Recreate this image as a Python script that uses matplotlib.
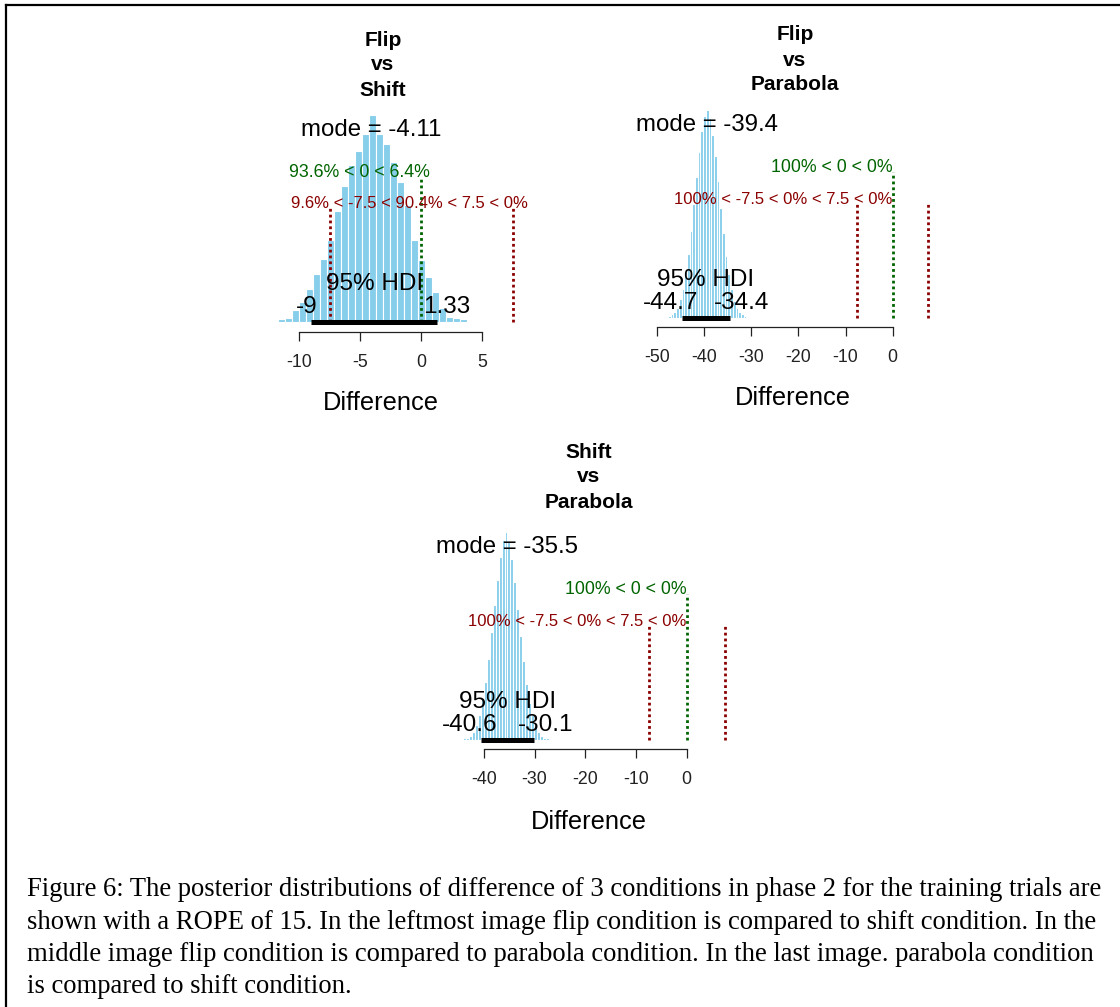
import matplotlib

matplotlib.use("Agg")

import matplotlib.pyplot as plt
from matplotlib.lines import Line2D
import numpy as np

plt.rcParams.update(
    {
        "font.family": ["Liberation Sans", "DejaVu Sans"],
        "axes.unicode_minus": False,
    }
)

# ---- data (posterior differences, BEST style plots) ----
TITLES = [["Flip", "vs", "Shift"], ["Flip", "vs", "Parabola"], ["Shift", "vs", "Parabola"]]
MODES = [-4.11, -39.4, -35.5]
HDI_LOW = [-9, -44.7, -40.6]
HDI_HIGH = [1.33, -34.4, -30.1]
COMP_VAL = 0
ROPE = [-7.5, 7.5]
PCT_LT_COMP = [93.6, 100, 100]
PCT_GT_COMP = [6.4, 0, 0]
PCT_LT_ROPE = [9.6, 100, 100]
PCT_IN_ROPE = [90.4, 0, 0]
PCT_GT_ROPE = [0, 0, 0]

HIST_START = [-12.27, -47.6, -44.1]
# bar heights as % of the tallest bar
HIST_1 = [0.5, 1.4, 1.9, 5.8, 9.7, 15.9, 23.2, 30.4, 39.6, 53.6, 65.7, 75.8, 82.6, 90.8, 100,
          90.8, 86.0, 77.3, 67.6, 56.5, 39.6, 30.0, 21.7, 14.5, 6.8, 2.4, 1.9, 1.4, 0.3]
HIST_2 = [1, 2, 3, 5, 9, 14, 22, 31, 42, 55, 68, 80, 90, 97, 100,
          96, 88, 78, 66, 53, 41, 30, 21, 14, 8, 5, 3, 2, 1]
HIST_3 = [1, 1, 2, 4, 7, 12, 19, 28, 39, 52, 65, 77, 88, 96, 100,
          95, 87, 76, 63, 50, 38, 27, 18, 12, 7, 4, 2, 1, 1, 0.5]
HISTS = [HIST_1, HIST_2, HIST_3]

TICKS = [[-10, -5, 0, 5], [-50, -40, -30, -20, -10, 0], [-40, -30, -20, -10, 0]]

CAPTION = [
    "Figure 6: The posterior distributions of difference of 3 conditions in phase 2 for the training trials are",
    "shown with a ROPE of 15. In the leftmost image flip condition is compared to shift condition. In the",
    "middle image flip condition is compared to parabola condition. In the last image. parabola condition",
    "is compared to shift condition.",
]

# ---- layout (pixels of the 1120x1007 canvas) ----
W, H = 1120, 1007
PANELS = [
    # zero_x, px_per_unit, baseline_y, px_per_height, xlim, title_xy, xlabel_xy
    dict(x0=421, pxu=12.2, base=322, hpx=207, gap=10, xlim=(-13.5, 8.5), title=(383, 40), xlab=(381, 403)),
    dict(x0=892.7, pxu=4.72, base=318, hpx=208, gap=9, xlim=(-51, 9), title=(795, 35), xlab=(793, 398)),
    dict(x0=686.7, pxu=5.07, base=740, hpx=208, gap=9, xlim=(-46, 9), title=(589, 452), xlab=(589, 822)),
]

SKY = "#87CEEB"
GREEN = "#006400"
RED = "#8B0000"

fig = plt.figure(figsize=(W / 100, H / 100), dpi=100)
fig.patch.set_facecolor("white")
renderer = fig.canvas.get_renderer()


def fpos(px, py):
    return px / W, 1 - py / H


def adj_text(ax, x, y, s, adj, dy=0.0, **kw):
    t = ax.annotate(s, (x, y), xytext=(0, dy), textcoords="offset points",
                    ha="left", va="baseline", annotation_clip=False, **kw)
    w = t.get_window_extent(renderer).width
    t.set_position((-adj * w * 72 / fig.dpi, dy))
    return t


for i, p in enumerate(PANELS):
    ylim = (-p["gap"] / p["hpx"], 1.03)
    left = (p["x0"] + p["xlim"][0] * p["pxu"]) / W
    width = (p["xlim"][1] - p["xlim"][0]) * p["pxu"] / W
    bottom = 1 - (p["base"] - ylim[0] * p["hpx"]) / H
    height = (ylim[1] - ylim[0]) * p["hpx"] / H
    ax = fig.add_axes([left, bottom, width, height])
    ax.set_xlim(p["xlim"])
    ax.set_ylim(ylim)
    ax.patch.set_alpha(0)

    heights = np.array(HISTS[i], dtype=float) / 100.0
    bw = (HDI_HIGH[i] - HDI_LOW[i]) / 18.0
    edges = HIST_START[i] + bw * np.arange(len(heights))
    ax.bar(edges, heights, width=bw, align="edge", color=SKY, edgecolor="white", linewidth=0.8, zorder=1)

    # HDI bar
    ax.plot([HDI_LOW[i], HDI_HIGH[i]], [0, 0], color="black", lw=3.6, solid_capstyle="butt", zorder=3)

    # comparison value & ROPE
    ax.plot([COMP_VAL, COMP_VAL], [0, 0.7], color=GREEN, lw=2, linestyle=(0, (1, 1.1)), zorder=2)
    for r in ROPE:
        ax.plot([r, r], [0, 0.55], color=RED, lw=2, linestyle=(0, (1, 1.1)), zorder=2)

    ax.text(MODES[i], 0.9, f"mode = {MODES[i]:g}", ha="center", va="baseline", fontsize=17.3, zorder=4)
    adj_text(ax, COMP_VAL, 0.7, f"{PCT_LT_COMP[i]:g}% < {COMP_VAL:g} < {PCT_GT_COMP[i]:g}%",
             PCT_LT_COMP[i] / 100, fontsize=12.8, color=GREEN, zorder=4)
    rope_txt = (f"{PCT_LT_ROPE[i]:g}% < {ROPE[0]:g} < {PCT_IN_ROPE[i]:g}% < "
                f"{ROPE[1]:g} < {PCT_GT_ROPE[i]:g}%")
    adj_text(ax, np.mean(ROPE), 0.55, rope_txt,
             (PCT_LT_ROPE[i] + 0.5 * PCT_IN_ROPE[i]) / 100, fontsize=12, color=RED, zorder=4)

    hdi_mid = (HDI_LOW[i] + HDI_HIGH[i]) / 2
    adj_text(ax, hdi_mid, 0, "95% HDI", 0.5, dy=23, fontsize=17.5, zorder=4)
    adj_text(ax, HDI_LOW[i], 0, f"{HDI_LOW[i]:g}", 0.7, dy=6.8, fontsize=17.5, zorder=4)
    adj_text(ax, HDI_HIGH[i], 0, f"{HDI_HIGH[i]:g}", 0.3, dy=6.8, fontsize=17.5, zorder=4)

    for s in ["top", "left", "right"]:
        ax.spines[s].set_visible(False)
    ax.spines["bottom"].set_bounds(TICKS[i][0], TICKS[i][-1])
    ax.spines["bottom"].set_color("#222222")
    ax.spines["bottom"].set_linewidth(0.9)
    ax.set_yticks([])
    ax.set_xticks(TICKS[i])
    ax.set_xticklabels([f"{t:g}" for t in TICKS[i]])
    ax.tick_params(axis="x", direction="out", length=6.5, width=0.9, color="#222222",
                   labelsize=12.8, pad=9, labelcolor="#222222")

    tx, ty = p["title"]
    for k, line in enumerate(TITLES[i]):
        fig.text(*fpos(tx, ty + 25 * k), line, ha="center", va="center", fontsize=15, fontweight="bold")
    fig.text(*fpos(*p["xlab"]), "Difference", ha="center", va="center", fontsize=18.3)

# caption
for k, line in enumerate(CAPTION):
    fig.text(*fpos(27, 890 + 32.3 * k), line, ha="left", va="center", fontsize=19.2,
             family=["Liberation Serif", "DejaVu Serif"])

# frame around the figure
fig.add_artist(Line2D([6 / W, 6 / W], [0, 1 - 4.5 / H], transform=fig.transFigure, color="black", lw=1.6))
fig.add_artist(Line2D([6 / W, 1], [1 - 4.5 / H, 1 - 4.5 / H], transform=fig.transFigure, color="black", lw=1.6))

fig.savefig("out.png", dpi=100)
